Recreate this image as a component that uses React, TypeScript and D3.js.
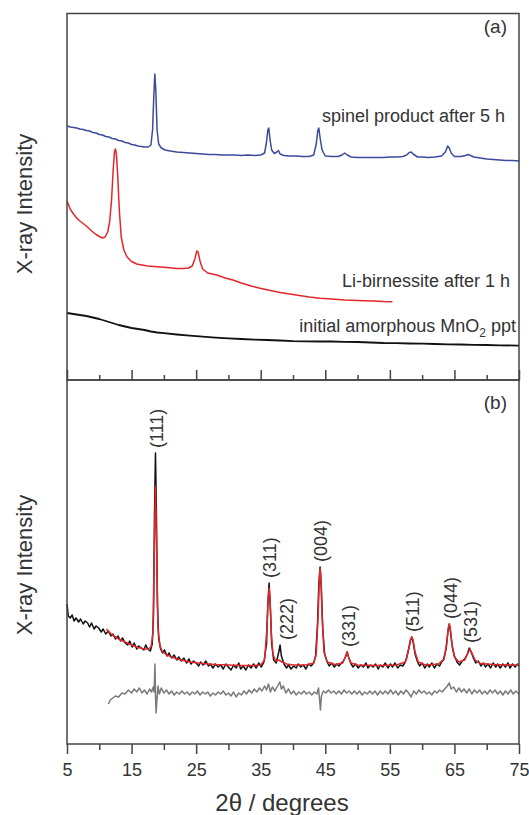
import { useEffect, useRef } from "react";
import * as d3 from "d3";

type Pt = [number, number];

// (a) raw patterns, arbitrary intensity units
const spinel5h: Pt[] = [
  [5, 254], [5.5, 253], [6, 252.5], [6.5, 252], [7, 251], [7.5, 250.5], [8, 249.5], [8.5, 249], [9, 247.5], [9.5, 247],
  [10, 245.5], [10.5, 245], [11, 243.5], [11.5, 243], [12, 241.5], [12.5, 241], [13, 239.5], [13.5, 239], [14, 237.5],
  [14.5, 237], [15, 235.5], [15.5, 235], [16, 234], [16.5, 233.5], [17, 233], [17.6, 233], [18.0, 235], [18.25, 250],
  [18.45, 285], [18.6, 306], [18.75, 290], [18.95, 250], [19.2, 236], [19.6, 232], [20.2, 230], [21, 229], [22, 228],
  [23, 227.5], [24, 227], [25, 226.5], [26, 226], [27, 225.5], [28, 225.5], [29, 225], [30, 225], [31, 225], [32, 224.5],
  [33, 225], [34, 224.5], [35, 225], [35.6, 227], [35.9, 238], [36.1, 250], [36.25, 252], [36.45, 240], [36.7, 230],
  [37.1, 226.5], [37.5, 228], [37.75, 229.5], [38.0, 226], [38.6, 224.5], [39.5, 224], [40.5, 224], [41.5, 223.5],
  [42.5, 223.5], [43.2, 225], [43.6, 236], [43.85, 250], [44.0, 252], [44.2, 242], [44.5, 230], [45, 224], [46, 223.5],
  [47, 223.5], [47.6, 225], [48.0, 227], [48.4, 225], [49, 223], [50, 222.5], [51, 222.5], [52, 222.5], [53, 222.5],
  [54, 222.5], [55, 223], [56, 223], [57, 223.5], [57.6, 225], [58.0, 227.5], [58.3, 228], [58.7, 225.5], [59.3, 223],
  [60, 223], [61, 222.5], [62, 223], [63, 224], [63.6, 228], [63.95, 234], [64.2, 232], [64.5, 227], [65, 223.5],
  [66, 223.5], [66.7, 224.5], [67.1, 225.5], [67.5, 224.5], [68, 223], [69, 222], [70, 221], [71, 220.5], [72, 220],
  [73, 219.5], [74, 219.5], [75, 219],
];

const birnessite1h: Pt[] = [
  [5, 179], [5.5, 171], [6, 166], [6.5, 162], [7, 159], [7.5, 156.5], [8, 154], [8.5, 151], [9, 148], [9.5, 145.5],
  [10, 143.5], [10.5, 142], [10.9, 143], [11.3, 148], [11.6, 158], [11.9, 180], [12.15, 210], [12.35, 228], [12.5, 231],
  [12.65, 226], [12.85, 205], [13.1, 170], [13.4, 143], [13.8, 130], [14.3, 123], [15, 118.5], [15.8, 116], [16.6, 115],
  [17.5, 114], [18.5, 113.5], [19.5, 113], [20.5, 112.5], [21.2, 112], [22, 111.5], [23, 111.5], [23.8, 112], [24.4, 114],
  [24.8, 121], [25.1, 129], [25.3, 128], [25.6, 119], [26, 111], [26.8, 107], [28.2, 105], [29.5, 102], [30.7, 100],
  [32, 97], [33.5, 94], [34.9, 91.7], [36.5, 89.5], [38, 87.5], [39.5, 86], [41, 84.5], [42.5, 83], [44.2, 81.7],
  [46, 81], [48, 80], [50, 79.5], [52.4, 79], [54, 78.5], [55.4, 78.3],
];

const amorphous: Pt[] = [
  [5, 67], [5.5, 66.5], [6, 66], [7, 65], [8, 64], [9, 62.5], [10, 61], [11, 59], [12, 57], [13, 55], [14, 53.5],
  [15, 52], [16, 51], [17, 50], [18, 48.5], [19, 47.5], [20, 46.8], [22, 45.5], [24, 44.3], [26, 43.3], [28, 42.4],
  [30, 41.6], [32, 41], [34, 40.4], [36, 40], [38, 39.5], [40, 38.8], [42, 38.6], [44, 38.5], [46, 38.5], [48, 38.2],
  [50, 38], [52, 37.5], [54, 37], [56, 36.8], [58, 36.5], [60, 36.3], [62, 36], [64, 35.7], [66, 35.5], [68, 35.2],
  [70, 35], [72, 34.7], [75, 34.3],
];

// (b) observed, fitted and difference patterns
const observed: Pt[] = [
  [5.0, 140], [5.2, 128], [5.5, 126], [5.8, 129], [6.1, 123], [6.4, 126], [6.8, 122], [7.1, 125], [7.5, 120], [7.8, 123],
  [8.2, 121], [8.5, 117], [8.8, 121], [9.2, 115], [9.5, 118], [9.9, 116], [10.3, 112], [10.6, 115], [11.0, 110],
  [11.4, 113], [11.8, 108], [12.1, 110], [12.5, 105], [12.9, 108], [13.3, 103], [13.6, 106], [14.0, 101], [14.4, 99],
  [14.7, 103], [15.1, 97], [15.4, 101], [15.8, 95], [16.1, 98], [16.5, 96], [16.9, 94], [17.2, 99], [17.5, 95],
  [17.9, 93], [18.2, 100], [18.4, 130], [18.55, 230], [18.7, 291], [18.85, 230], [19.0, 140], [19.2, 105], [19.5, 95],
  [19.8, 91], [20.1, 94], [20.5, 88], [20.8, 91], [21.2, 86], [21.6, 89], [22.0, 84], [22.3, 87], [22.7, 83], [23.1, 86],
  [23.5, 81], [23.9, 85], [24.2, 80], [24.6, 83], [25.0, 81], [25.4, 78], [25.7, 82], [26.1, 79], [26.5, 83], [26.9, 78],
  [27.2, 80], [27.6, 76], [28.0, 80], [28.4, 77], [28.8, 79], [29.2, 75], [29.6, 80], [30.0, 77], [30.4, 74], [30.8, 79],
  [31.2, 76], [31.6, 81], [31.9, 75], [32.3, 78], [32.7, 74], [33.1, 79], [33.5, 76], [33.9, 80], [34.3, 76], [34.7, 81],
  [35.1, 77], [35.5, 82], [35.9, 100], [36.1, 140], [36.3, 161], [36.5, 135], [36.7, 100], [37.0, 84], [37.4, 81],
  [37.8, 92], [38.0, 99], [38.2, 88], [38.6, 80], [39.0, 76], [39.3, 79], [39.7, 75], [40.1, 78], [40.5, 76], [40.8, 80],
  [41.2, 77], [41.6, 79], [42.0, 75], [42.4, 80], [42.8, 78], [43.2, 81], [43.5, 88], [43.8, 120], [44.0, 160],
  [44.2, 177], [44.4, 155], [44.6, 115], [44.9, 90], [45.3, 82], [45.6, 78], [46.0, 81], [46.4, 77], [46.8, 80],
  [47.1, 78], [47.5, 81], [47.8, 83], [48.2, 88], [48.4, 92], [48.6, 87], [49.0, 80], [49.3, 77], [49.7, 80], [50.1, 76],
  [50.5, 79], [50.9, 77], [51.3, 81], [51.6, 76], [52.0, 79], [52.4, 77], [52.8, 80], [53.2, 75], [53.5, 79], [53.9, 77],
  [54.3, 81], [54.7, 76], [55.1, 80], [55.4, 77], [55.8, 81], [56.2, 76], [56.6, 79], [57.0, 78], [57.3, 81], [57.6, 86],
  [57.9, 95], [58.2, 104], [58.4, 107], [58.6, 102], [58.9, 90], [59.3, 82], [59.6, 78], [60.0, 81], [60.4, 76],
  [60.8, 80], [61.1, 77], [61.5, 81], [61.9, 76], [62.3, 80], [62.7, 78], [63.0, 82], [63.3, 84], [63.7, 95], [64.0, 113],
  [64.2, 120], [64.4, 112], [64.7, 96], [65.0, 88], [65.4, 82], [65.8, 79], [66.2, 83], [66.6, 85], [67.0, 90],
  [67.3, 96], [67.6, 92], [68.0, 85], [68.3, 81], [68.7, 83], [69.1, 78], [69.5, 81], [69.8, 77], [70.2, 80], [70.6, 76],
  [71.0, 81], [71.4, 77], [71.7, 80], [72.1, 76], [72.5, 80], [72.9, 77], [73.3, 81], [73.6, 76], [74.0, 80], [74.4, 77],
  [74.8, 80], [75.0, 78],
];

const fitted: Pt[] = [
  [11.1, 115], [12, 109], [13, 105], [14, 102], [15, 99], [16, 96.5], [17, 95], [17.6, 95], [18.0, 97], [18.3, 110],
  [18.5, 185], [18.7, 258], [18.9, 185], [19.1, 115], [19.4, 98], [19.8, 92], [20.5, 89], [22, 85], [24, 82], [26, 80.5],
  [28, 79.5], [30, 79], [32, 78.5], [34, 78.5], [35, 79], [35.6, 84], [35.95, 115], [36.15, 145], [36.3, 156],
  [36.45, 145], [36.65, 110], [36.9, 90], [37.3, 83], [37.8, 84], [38.3, 82], [39, 80], [40, 79], [42, 79], [43.2, 81],
  [43.6, 90], [43.9, 130], [44.1, 168], [44.2, 176], [44.3, 168], [44.5, 130], [44.8, 92], [45.3, 82], [46.5, 79.5],
  [47.7, 81], [48.1, 87], [48.35, 92], [48.6, 87], [49, 81], [50, 79], [53, 78.5], [56, 79], [57.4, 82], [57.9, 94],
  [58.2, 104], [58.4, 107], [58.6, 104], [58.9, 92], [59.4, 82], [60.5, 79], [62.5, 80], [63.4, 85], [63.8, 100],
  [64.05, 116], [64.2, 120], [64.35, 116], [64.6, 100], [65, 87], [65.7, 82], [66.6, 84], [67.1, 91], [67.4, 95],
  [67.7, 91], [68.2, 84], [69, 80.5], [71, 79.5], [73, 79], [75, 79],
];

const residual: Pt[] = [
  [11.4, 40], [11.7, 44], [12.1, 46], [12.5, 48], [13.0, 47], [13.5, 51], [14.0, 50], [14.5, 54], [15.0, 51], [15.4, 55],
  [15.8, 52], [16.2, 56], [16.6, 51], [17.0, 54], [17.4, 50], [17.8, 55], [18.1, 52], [18.35, 57], [18.5, 52],
  [18.62, 80], [18.72, 45], [18.8, 31], [18.9, 42], [19.1, 58], [19.3, 50], [19.6, 56], [20.0, 51], [20.4, 54],
  [20.8, 50], [21.2, 53], [21.6, 49], [22.0, 52], [22.4, 50], [22.8, 53], [23.2, 50], [23.6, 52], [24.0, 49], [24.4, 52],
  [24.8, 50], [25.2, 53], [25.6, 49], [26.0, 52], [26.4, 50], [26.8, 52], [27.2, 48], [27.6, 51], [28.0, 49], [28.4, 52],
  [28.8, 50], [29.2, 53], [29.6, 49], [30.0, 51], [30.4, 48], [30.8, 52], [31.2, 47], [31.6, 51], [32.0, 49], [32.4, 53],
  [32.8, 50], [33.2, 54], [33.6, 51], [34.0, 55], [34.4, 52], [34.8, 56], [35.2, 53], [35.6, 58], [35.9, 54], [36.2, 60],
  [36.5, 52], [36.8, 57], [37.2, 53], [37.6, 58], [37.95, 62], [38.2, 55], [38.5, 58], [38.9, 51], [39.3, 55], [39.7, 50],
  [40.1, 53], [40.5, 49], [40.9, 52], [41.3, 50], [41.7, 53], [42.1, 50], [42.5, 52], [42.9, 49], [43.3, 52], [43.7, 50],
  [43.95, 56], [44.15, 42], [44.25, 34], [44.4, 48], [44.7, 53], [45.1, 51], [45.5, 54], [45.9, 51], [46.3, 53],
  [46.7, 50], [47.1, 53], [47.5, 50], [47.9, 54], [48.3, 51], [48.7, 53], [49.1, 50], [49.5, 53], [49.9, 50], [50.3, 53],
  [50.7, 49], [51.1, 52], [51.5, 50], [51.9, 53], [52.3, 50], [52.7, 53], [53.1, 49], [53.5, 53], [53.9, 50], [54.3, 53],
  [54.7, 50], [55.1, 54], [55.5, 50], [55.9, 53], [56.3, 49], [56.7, 53], [57.1, 50], [57.5, 54], [57.9, 51], [58.3, 47],
  [58.7, 53], [59.1, 50], [59.5, 54], [59.9, 51], [60.3, 53], [60.7, 50], [61.1, 52], [61.5, 49], [61.9, 53], [62.3, 51],
  [62.7, 54], [63.1, 52], [63.5, 55], [63.9, 58], [64.2, 61], [64.5, 55], [64.9, 57], [65.3, 52], [65.7, 56], [66.1, 52],
  [66.5, 55], [66.9, 51], [67.3, 55], [67.7, 50], [68.1, 54], [68.5, 51], [68.9, 54], [69.3, 50], [69.7, 53], [70.1, 50],
  [70.5, 54], [70.9, 51], [71.3, 54], [71.7, 50], [72.1, 53], [72.5, 49], [72.9, 53], [73.3, 50], [73.7, 54], [74.1, 50],
  [74.5, 53], [75.0, 50],
];

const hklLabels = ["(111)", "(311)", "(222)", "(004)", "(331)", "(511)", "(044)", "(531)"];
const hklPeaks = [18.7, 36.3, 38.0, 44.2, 48.4, 58.4, 64.2, 67.4];

const xMajor = [5, 15, 25, 35, 45, 55, 65, 75];
const xMinor = [10, 20, 30, 40, 50, 60, 70];

const FONT = "'Liberation Sans', Arial, sans-serif";
const INK = "#333";
const FRAME = "#444";

const App = () => {
  const ref = useRef<SVGSVGElement>(null);

  useEffect(() => {
    const svg = d3.select(ref.current);
    svg.selectAll("*").remove();

    const left = 67, right = 519;
    const topA = 13.5, mid = 380, bottomB = 744;

    const x = d3.scaleLinear().domain([5, 75]).range([left, right]);
    const ya = d3.scaleLinear().domain([0, 366.5]).range([mid, topA]);
    const yb = d3.scaleLinear().domain([0, 364]).range([bottomB, mid]);

    const lineA = d3.line<Pt>().x(d => x(d[0])).y(d => ya(d[1]));
    const lineB = d3.line<Pt>().x(d => x(d[0])).y(d => yb(d[1]));

    const drawLine = (data: Pt[], gen: d3.Line<Pt>, color: string, w: number) =>
      svg.append("path").datum(data).attr("d", gen).attr("fill", "none")
        .attr("stroke", color).attr("stroke-width", w).attr("stroke-linejoin", "round");

    // panel (a)
    drawLine(spinel5h, lineA, "#3c4a9c", 1.5);
    drawLine(birnessite1h, lineA, "#e2272b", 1.5);
    drawLine(amorphous, lineA, "#111", 1.8);

    // panel (b)
    drawLine(observed, lineB, "#111", 1.5);
    drawLine(fitted, lineB, "#e2272b", 1.5);
    drawLine(residual, lineB, "#7a7a7a", 1.5);

    // frames
    [[topA, mid], [mid, bottomB]].forEach(([t, b]) => {
      svg.append("rect").attr("x", left).attr("y", t).attr("width", right - left).attr("height", b - t)
        .attr("fill", "none").attr("stroke", FRAME).attr("stroke-width", 1.5);
    });

    const styleAxis = (g: any) => {
      g.select(".domain").remove();
      g.selectAll("line").attr("stroke", FRAME).attr("stroke-width", 1.5);
      g.selectAll("text").attr("font-family", FONT).attr("font-size", 18).attr("fill", INK);
    };

    // ticks on the divider, pointing up into (a)
    svg.append("g").attr("transform", `translate(0,${mid})`)
      .call(d3.axisBottom(x).tickValues(xMajor).tickSize(-10).tickFormat(() => ""))
      .call(styleAxis);
    svg.append("g").attr("transform", `translate(0,${mid})`)
      .call(d3.axisBottom(x).tickValues(xMinor).tickSize(-5).tickFormat(() => ""))
      .call(styleAxis);

    // bottom axis
    svg.append("g").attr("transform", `translate(0,${bottomB})`)
      .call(d3.axisBottom(x).tickValues(xMajor).tickSize(10).tickPadding(9).tickFormat(d3.format("d")))
      .call(styleAxis);
    svg.append("g").attr("transform", `translate(0,${bottomB})`)
      .call(d3.axisBottom(x).tickValues(xMinor).tickSize(6).tickFormat(() => ""))
      .call(styleAxis);

    const txt = (s: string, tx: number, ty: number, size: number, anchor: string, rot = 0) =>
      svg.append("text")
        .attr("transform", `translate(${tx},${ty})` + (rot ? ` rotate(${rot})` : ""))
        .attr("text-anchor", anchor).attr("font-family", FONT).attr("font-size", size).attr("fill", INK)
        .text(s);

    // panel letters and trace names
    txt("(a)", 507, 33, 19, "end");
    txt("(b)", 507, 408.5, 19, "end");
    txt("spinel product after 5 h", 505, 122, 18, "end");
    txt("Li-birnessite after 1 h", 510, 286.5, 18, "end");

    const mn = svg.append("text").attr("x", 516).attr("y", 331.5).attr("text-anchor", "end")
      .attr("font-family", FONT).attr("font-size", 18).attr("fill", INK);
    mn.append("tspan").text("initial amorphous MnO");
    mn.append("tspan").attr("font-size", 12).attr("dy", 5).text("2");
    mn.append("tspan").attr("dy", -5).text(" ppt");

    // hkl labels above the observed peaks
    hklLabels.forEach((hkl, i) => {
      const p = hklPeaks[i];
      const top = d3.max(observed.filter(d => Math.abs(d[0] - p) < 0.3), d => d[1]) as number;
      const dx = hkl === "(222)" ? 7 : 1;
      txt(hkl, x(p) + dx, yb(top) - 5, 18, "start", -90).attr("dy", "0.35em");
    });

    // axis titles
    txt("X-ray Intensity", 32, 204, 22, "middle", -90);
    txt("X-ray Intensity", 32, 565, 22, "middle", -90);
    txt("2\u03b8 / degrees", 282, 811, 24, "middle");
  }, []);

  return (
    <svg ref={ref} width={529} height={815}
      style={{ position: "absolute", left: 0, top: 0, background: "#fff" }} />
  );
};

export default App;
